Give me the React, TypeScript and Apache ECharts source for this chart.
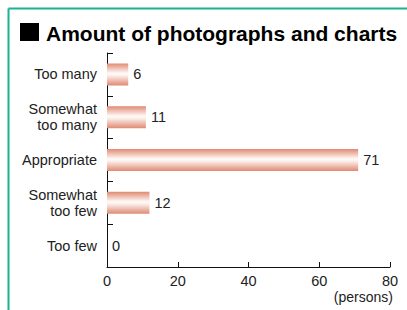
import React, { useEffect, useRef } from "react";
import * as echarts from "echarts";

const categories = ["Too many", "Somewhat\ntoo many", "Appropriate", "Somewhat\ntoo few", "Too few"];
const persons = [6, 11, 71, 12, 0];
const xTicks = [0, 20, 40, 60, 80];
const titleText = "Amount of photographs and charts";
const unitText = "(persons)";

const FONT = "'Liberation Sans', Arial, Helvetica, sans-serif";

export default function App() {
  const ref = useRef<HTMLDivElement>(null);
  useEffect(() => {
    if (!ref.current) return;
    const chart = echarts.init(ref.current, undefined, { renderer: "svg" });
    const barColor = new echarts.graphic.LinearGradient(0, 0, 0, 1, [
      { offset: 0, color: "#e08a72" },
      { offset: 0.45, color: "#fffaf8" },
      { offset: 0.55, color: "#fbf0ec" },
      { offset: 1, color: "#e08a72" },
    ]);
    chart.setOption({
      animation: false,
      backgroundColor: "#ffffff",
      grid: { left: 107, right: 17, top: 53, bottom: 43, containLabel: false },
      xAxis: {
        type: "value",
        min: xTicks[0],
        max: xTicks[xTicks.length - 1],
        interval: 20,
        axisLine: { show: true, lineStyle: { color: "#111", width: 1 } },
        axisTick: { show: true, inside: true, length: 5, lineStyle: { color: "#111" } },
        splitLine: { show: false },
        axisLabel: { color: "#222", fontSize: 14.5, fontFamily: FONT, margin: 6 },
      },
      yAxis: {
        type: "category",
        data: categories,
        inverse: true,
        axisLine: { show: true, lineStyle: { color: "#111", width: 1 } },
        axisTick: { show: true, inside: true, length: 6, alignWithLabel: false, lineStyle: { color: "#111" } },
        axisLabel: { color: "#222", fontSize: 14.5, fontFamily: FONT, margin: 10, lineHeight: 16, align: "right" },
        splitLine: { show: false },
      },
      series: [
        {
          type: "bar",
          data: persons,
          barWidth: 22,
          itemStyle: { color: barColor },
          label: {
            show: true,
            position: "right",
            distance: 5,
            color: "#222",
            fontSize: 14.5,
            fontFamily: FONT,
          },
        },
      ],
      graphic: [
        { type: "line", shape: { x1: 8.5, y1: 8.5, x2: 407, y2: 8.5 }, style: { stroke: "#1db28f", lineWidth: 2 } },
        { type: "line", shape: { x1: 8.5, y1: 8.5, x2: 8.5, y2: 310 }, style: { stroke: "#1db28f", lineWidth: 2 } },
        { type: "rect", shape: { x: 20, y: 23, width: 19, height: 18 }, style: { fill: "#000" } },
        {
          type: "text",
          x: 46,
          y: 33,
          style: {
            text: titleText,
            fill: "#000",
            font: `bold 21px ${FONT}`,
            verticalAlign: "middle",
          },
        },
        {
          type: "text",
          x: 393,
          y: 297,
          style: {
            text: unitText,
            fill: "#222",
            font: `14px ${FONT}`,
            align: "right",
            verticalAlign: "middle",
          },
        },
      ],
    });
    return () => chart.dispose();
  }, []);
  return (
    <div
      ref={ref}
      style={{ position: "absolute", left: 0, top: 0, width: 407, height: 310 }}
    />
  );
}
